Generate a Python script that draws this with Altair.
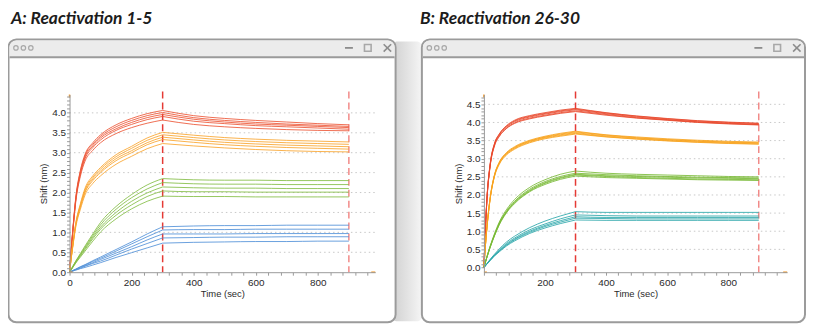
import altair as alt
import pandas as pd

# ---------------- data ----------------
T_ASSOC = [0, 5, 10, 20, 35, 50, 75, 100, 150, 200, 250, 300]
T_DISS = [300, 400, 500, 600, 700, 800, 900]

# Panel A : Reactivation 1-5
A_RED_ASSOC = [
    [0, 0.55, 1.02, 1.87, 2.56, 2.96, 3.25, 3.45, 3.70, 3.86, 3.98, 4.06],
    [0, 0.54, 1.00, 1.84, 2.53, 2.93, 3.21, 3.41, 3.65, 3.81, 3.93, 4.01],
    [0, 0.53, 0.99, 1.82, 2.49, 2.89, 3.17, 3.37, 3.60, 3.76, 3.88, 3.96],
    [0, 0.52, 0.98, 1.80, 2.46, 2.85, 3.13, 3.32, 3.56, 3.71, 3.83, 3.91],
    [0, 0.51, 0.95, 1.76, 2.41, 2.79, 3.06, 3.25, 3.48, 3.63, 3.74, 3.82],
]
A_RED_DISS = [
    [4.06, 3.93, 3.86, 3.81, 3.77, 3.73, 3.70],
    [4.01, 3.88, 3.81, 3.76, 3.72, 3.69, 3.66],
    [3.96, 3.84, 3.77, 3.72, 3.69, 3.66, 3.63],
    [3.91, 3.79, 3.73, 3.68, 3.65, 3.62, 3.59],
    [3.82, 3.71, 3.65, 3.61, 3.58, 3.56, 3.55],
]
A_ORANGE_ASSOC = [
    [0, 0.35, 0.67, 1.23, 1.72, 2.11, 2.42, 2.63, 2.95, 3.16, 3.37, 3.51],
    [0, 0.34, 0.66, 1.21, 1.69, 2.07, 2.38, 2.59, 2.90, 3.11, 3.31, 3.45],
    [0, 0.34, 0.64, 1.19, 1.66, 2.03, 2.34, 2.54, 2.85, 3.05, 3.25, 3.39],
    [0, 0.33, 0.63, 1.17, 1.63, 2.00, 2.30, 2.50, 2.80, 3.00, 3.20, 3.33],
    [0, 0.32, 0.61, 1.13, 1.58, 1.94, 2.23, 2.42, 2.71, 2.91, 3.10, 3.23],
]
A_ORANGE_DISS = [
    [3.51, 3.44, 3.38, 3.34, 3.31, 3.29, 3.27],
    [3.45, 3.38, 3.32, 3.28, 3.25, 3.23, 3.21],
    [3.39, 3.32, 3.26, 3.22, 3.19, 3.17, 3.15],
    [3.33, 3.26, 3.20, 3.16, 3.13, 3.11, 3.09],
    [3.23, 3.17, 3.12, 3.08, 3.05, 3.03, 3.02],
]
A_GREEN_ASSOC = [
    [0, 0.07, 0.14, 0.28, 0.47, 0.66, 0.96, 1.25, 1.65, 1.95, 2.19, 2.35],
    [0, 0.07, 0.14, 0.27, 0.45, 0.63, 0.92, 1.19, 1.58, 1.87, 2.09, 2.25],
    [0, 0.06, 0.13, 0.26, 0.43, 0.60, 0.88, 1.13, 1.50, 1.78, 1.99, 2.14],
    [0, 0.06, 0.12, 0.24, 0.41, 0.57, 0.84, 1.08, 1.43, 1.69, 1.90, 2.04],
    [0, 0.06, 0.11, 0.23, 0.38, 0.53, 0.78, 1.01, 1.34, 1.59, 1.78, 1.91],
]
A_GREEN_DISS = [
    [2.35, 2.32, 2.31, 2.31, 2.30, 2.30, 2.30],
    [2.25, 2.22, 2.21, 2.21, 2.20, 2.20, 2.20],
    [2.14, 2.12, 2.11, 2.11, 2.10, 2.10, 2.10],
    [2.04, 2.02, 2.02, 2.01, 2.01, 2.01, 2.01],
    [1.91, 1.90, 1.90, 1.89, 1.89, 1.89, 1.89],
]
A_BLUE_ASSOC = [
    [0, 0.02, 0.04, 0.08, 0.14, 0.19, 0.29, 0.38, 0.57, 0.76, 0.96, 1.14],
    [0, 0.02, 0.04, 0.07, 0.13, 0.18, 0.27, 0.35, 0.53, 0.71, 0.89, 1.06],
    [0, 0.02, 0.03, 0.07, 0.12, 0.16, 0.24, 0.32, 0.48, 0.64, 0.81, 0.96],
    [0, 0.01, 0.03, 0.06, 0.10, 0.15, 0.22, 0.28, 0.43, 0.58, 0.72, 0.86],
    [0, 0.01, 0.03, 0.05, 0.09, 0.12, 0.18, 0.24, 0.37, 0.49, 0.61, 0.73],
]
A_BLUE_DISS = [
    [1.14, 1.16, 1.17, 1.17, 1.18, 1.18, 1.18],
    [1.06, 1.07, 1.07, 1.08, 1.08, 1.08, 1.08],
    [0.96, 0.96, 0.96, 0.97, 0.97, 0.97, 0.97],
    [0.86, 0.87, 0.88, 0.88, 0.89, 0.89, 0.89],
    [0.73, 0.75, 0.76, 0.77, 0.77, 0.78, 0.78],
]

# Panel B : Reactivation 26-30
B_RED_ASSOC = [
    [0, 1.10, 1.92, 2.83, 3.43, 3.68, 3.92, 4.06, 4.19, 4.27, 4.34, 4.39],
    [0, 1.09, 1.91, 2.81, 3.42, 3.67, 3.90, 4.04, 4.17, 4.25, 4.32, 4.37],
    [0, 1.09, 1.90, 2.80, 3.40, 3.65, 3.88, 4.02, 4.15, 4.23, 4.30, 4.35],
    [0, 1.08, 1.89, 2.78, 3.38, 3.62, 3.85, 3.99, 4.12, 4.20, 4.27, 4.32],
    [0, 1.07, 1.88, 2.77, 3.36, 3.61, 3.84, 3.97, 4.10, 4.18, 4.25, 4.30],
]
B_RED_DISS = [
    [4.39, 4.27, 4.18, 4.11, 4.05, 4.01, 3.98],
    [4.37, 4.26, 4.17, 4.10, 4.04, 4.00, 3.97],
    [4.35, 4.24, 4.15, 4.08, 4.02, 3.98, 3.95],
    [4.32, 4.22, 4.13, 4.07, 4.01, 3.97, 3.94],
    [4.30, 4.20, 4.12, 4.06, 4.00, 3.96, 3.93],
]
B_ORANGE_ASSOC = [
    [0, 0.63, 1.13, 1.90, 2.57, 2.90, 3.18, 3.33, 3.51, 3.62, 3.70, 3.76],
    [0, 0.62, 1.12, 1.89, 2.56, 2.89, 3.16, 3.31, 3.49, 3.60, 3.68, 3.74],
    [0, 0.62, 1.12, 1.88, 2.55, 2.88, 3.15, 3.30, 3.48, 3.59, 3.66, 3.72],
    [0, 0.61, 1.11, 1.87, 2.53, 2.86, 3.13, 3.28, 3.46, 3.57, 3.64, 3.70],
    [0, 0.61, 1.10, 1.86, 2.52, 2.84, 3.11, 3.26, 3.44, 3.55, 3.62, 3.68],
]
B_ORANGE_DISS = [
    [3.76, 3.66, 3.60, 3.55, 3.51, 3.48, 3.46],
    [3.74, 3.65, 3.58, 3.53, 3.49, 3.46, 3.44],
    [3.72, 3.63, 3.57, 3.52, 3.48, 3.45, 3.43],
    [3.70, 3.61, 3.55, 3.50, 3.46, 3.43, 3.41],
    [3.68, 3.60, 3.54, 3.49, 3.45, 3.42, 3.40],
]
B_GREEN_ASSOC = [
    [0, 0.16, 0.30, 0.58, 0.94, 1.25, 1.61, 1.87, 2.21, 2.42, 2.57, 2.66],
    [0, 0.15, 0.30, 0.57, 0.92, 1.22, 1.57, 1.82, 2.16, 2.37, 2.51, 2.60],
    [0, 0.15, 0.29, 0.56, 0.90, 1.20, 1.55, 1.80, 2.13, 2.34, 2.48, 2.57],
    [0, 0.15, 0.29, 0.55, 0.89, 1.19, 1.54, 1.78, 2.11, 2.32, 2.46, 2.55],
    [0, 0.15, 0.28, 0.54, 0.88, 1.17, 1.52, 1.76, 2.09, 2.29, 2.43, 2.52],
]
B_GREEN_DISS = [
    [2.66, 2.60, 2.57, 2.55, 2.53, 2.51, 2.50],
    [2.60, 2.56, 2.53, 2.51, 2.49, 2.48, 2.47],
    [2.57, 2.53, 2.51, 2.49, 2.47, 2.46, 2.45],
    [2.55, 2.51, 2.48, 2.46, 2.44, 2.43, 2.42],
    [2.52, 2.48, 2.46, 2.44, 2.42, 2.41, 2.40],
]
B_TEAL_ASSOC = [
    [0, 0.05, 0.11, 0.22, 0.37, 0.51, 0.71, 0.86, 1.10, 1.28, 1.42, 1.54],
    [0, 0.05, 0.10, 0.21, 0.35, 0.48, 0.67, 0.81, 1.04, 1.20, 1.34, 1.45],
    [0, 0.05, 0.10, 0.20, 0.34, 0.46, 0.64, 0.78, 1.00, 1.16, 1.29, 1.40],
    [0, 0.05, 0.10, 0.19, 0.33, 0.45, 0.62, 0.76, 0.97, 1.13, 1.25, 1.36],
    [0, 0.05, 0.09, 0.19, 0.32, 0.43, 0.60, 0.73, 0.94, 1.09, 1.21, 1.31],
]
B_TEAL_DISS = [
    [1.54, 1.52, 1.52, 1.52, 1.52, 1.52, 1.52],
    [1.45, 1.43, 1.42, 1.42, 1.42, 1.42, 1.42],
    [1.40, 1.38, 1.38, 1.38, 1.38, 1.38, 1.38],
    [1.36, 1.35, 1.34, 1.34, 1.34, 1.34, 1.34],
    [1.31, 1.30, 1.30, 1.30, 1.30, 1.30, 1.30],
]

A_GROUPS = ["red", "orange", "green", "blue"]
A_COLORS = ["#ec5434", "#f9a42c", "#82bc44", "#4f8fd8"]
B_GROUPS = ["red", "orange", "green", "teal"]
B_COLORS = ["#e9482c", "#f8a31c", "#78b934", "#2ba6aa"]

PHASE_MARKERS = [300, 900]
X_TICKS = list(range(0, 961, 40))
A_Y_TICKS = [round(i * 0.1, 1) for i in range(0, 45)]
B_Y_TICKS = [round(i * 0.1, 1) for i in range(0, 48)]
A_GRID = [0.5, 1.0, 1.5, 2.0, 2.5, 3.0, 3.5, 4.0]
B_GRID = [0.5, 1.0, 1.5, 2.0, 2.5, 3.0, 3.5, 4.0, 4.5]

TITLE_A = "A: Reactivation 1-5"
TITLE_B = "B: Reactivation 26-30"


def build_df(groups, assoc_sets, diss_sets):
    rows = []
    for g, assoc, diss in zip(groups, assoc_sets, diss_sets):
        for i, (a, d) in enumerate(zip(assoc, diss)):
            for t, v in zip(T_ASSOC, a):
                rows.append({"t": t, "v": v, "grp": g, "key": f"{g}{i}a"})
            for t, v in zip(T_DISS, d):
                rows.append({"t": t, "v": v, "grp": g, "key": f"{g}{i}d"})
    return pd.DataFrame(rows)


dfA = build_df(A_GROUPS, [A_RED_ASSOC, A_ORANGE_ASSOC, A_GREEN_ASSOC, A_BLUE_ASSOC],
               [A_RED_DISS, A_ORANGE_DISS, A_GREEN_DISS, A_BLUE_DISS])
dfB = build_df(B_GROUPS, [B_RED_ASSOC, B_ORANGE_ASSOC, B_GREEN_ASSOC, B_TEAL_ASSOC],
               [B_RED_DISS, B_ORANGE_DISS, B_GREEN_DISS, B_TEAL_DISS])

ONE = pd.DataFrame({"o": [0]})
FRAME = "#9b9b9b"
ICON = "#8c8c8c"
AX = "#9a9a9a"
TXT = "#2a2a2a"


def deco_rule(x, x2, y, y2, color=ICON, width=1.5):
    return alt.Chart(ONE).mark_rule(color=color, strokeWidth=width).encode(
        x=alt.value(x), x2=alt.value(x2), y=alt.value(y), y2=alt.value(y2))


def axis(**kw):
    return alt.Axis(zindex=2, domainColor=AX, tickColor=AX, labelColor=TXT,
                    titleColor=TXT, labelFont="Liberation Sans",
                    titleFont="Liberation Sans", labelFontSize=10, titleFontSize=9.5,
                    titleFontWeight="normal", labelOverlap=False, labelFlush=False,
                    grid=False, tickSize=3, **kw)


def panel(df, title, W, H, xdom, ydom, yticks, grid, groups, colors,
          fx0, fx1, title_x, show_zero, shadow):
    xlab = ("datum.value % 200 === 0 ? format(datum.value, 'd') : ''" if show_zero else
            "datum.value % 200 === 0 && datum.value > 0 ? format(datum.value, 'd') : ''")
    xaxis = axis(values=X_TICKS, labelExpr=xlab, labelPadding=2, titlePadding=1,
                 title="Time (sec)")
    yaxis = axis(values=yticks, labelPadding=1, titlePadding=3, title="Shift (nm)",
                 labelExpr="round(datum.value * 10) % 5 === 0 ? format(datum.value, '.1f') : ''")
    xs = alt.Scale(domain=xdom, nice=False, zero=False)
    ys = alt.Scale(domain=ydom, nice=False, zero=False)
    ftop, fbot, bar = -55.5, 229.5, -37.5
    iy = -47
    layers = []
    if shadow:
        grad = alt.LinearGradient(
            gradient="linear",
            stops=[alt.GradientStop(color="#d0d0d0", offset=0),
                   alt.GradientStop(color="#e2e2e2", offset=0.5),
                   alt.GradientStop(color="#f6f6f6", offset=1)],
            x1=0, x2=1, y1=0, y2=0)
        layers.append(alt.Chart(ONE).mark_rect(fill=grad, cornerRadius=6).encode(
            x=alt.value(fx1 - 4), x2=alt.value(fx1 + 27),
            y=alt.value(ftop + 2), y2=alt.value(fbot - 1)))
    layers.append(alt.Chart(ONE).mark_rect(opacity=0).encode(
        x=alt.value(fx0), x2=alt.value(fx0 + 1), y=alt.value(-85), y2=alt.value(-84)))
    layers.append(alt.Chart(ONE).mark_rect(fill="white", stroke=FRAME, strokeWidth=2,
                                           cornerRadius=8).encode(
        x=alt.value(fx0), x2=alt.value(fx1), y=alt.value(ftop), y2=alt.value(fbot)))
    layers.append(alt.Chart(ONE).mark_rect(fill="#ececec", cornerRadiusTopLeft=7,
                                           cornerRadiusTopRight=7).encode(
        x=alt.value(fx0 + 1), x2=alt.value(fx1 - 1), y=alt.value(ftop + 1), y2=alt.value(bar)))
    layers.append(deco_rule(fx0 + 1, fx1 - 1, bar, bar, FRAME, 2))
    for cx in (fx0 + 7.5, fx0 + 15, fx0 + 22.5):
        layers.append(alt.Chart(ONE).mark_point(shape="circle", filled=False, size=20,
                                                color=ICON, strokeWidth=1.2).encode(
            x=alt.value(cx), y=alt.value(iy)))
    layers.append(deco_rule(fx1 - 51, fx1 - 43, iy, iy, ICON, 1.8))
    layers.append(alt.Chart(ONE).mark_point(shape="square", filled=False, size=45,
                                            color=ICON, strokeWidth=1.6).encode(
        x=alt.value(fx1 - 28), y=alt.value(iy)))
    layers.append(deco_rule(fx1 - 12, fx1 - 4.5, iy - 3.7, iy + 3.7, ICON, 1.6))
    layers.append(deco_rule(fx1 - 12, fx1 - 4.5, iy + 3.7, iy - 3.7, ICON, 1.6))
    layers.append(alt.Chart(ONE).mark_text(text=title, font="Lato", fontSize=17.5,
                                           fontWeight="bold", fontStyle="italic",
                                           align="left", baseline="alphabetic",
                                           color="#1c1c1c").encode(
        x=alt.value(title_x), y=alt.value(-71.5)))
    lines = alt.Chart(df).mark_line(strokeWidth=1, opacity=0.85,
                                    interpolate="monotone").encode(
        x=alt.X("t:Q", scale=xs, axis=xaxis),
        y=alt.Y("v:Q", scale=ys, axis=yaxis),
        color=alt.Color("grp:N", scale=alt.Scale(domain=groups, range=colors), legend=None),
        detail="key:N",
    )
    grid_layer = alt.Chart(pd.DataFrame({"g": grid})).mark_rule(
        color="#c8c8c8", strokeWidth=1, strokeDash=[1.5, 3]).encode(
        y=alt.Y("g:Q", scale=ys, axis=yaxis), x=alt.value(0), x2=alt.value(W))
    ph1 = alt.Chart(pd.DataFrame({"p": PHASE_MARKERS[:1]})).mark_rule(
        color="#e53a35", strokeWidth=1.5, strokeDash=[7, 4]).encode(
        x=alt.X("p:Q", scale=xs, axis=xaxis), y=alt.value(-3), y2=alt.value(H))
    ph2 = alt.Chart(pd.DataFrame({"p": PHASE_MARKERS[1:]})).mark_rule(
        color="#ee6d6a", strokeWidth=1.5, strokeDash=[7, 4], opacity=0.8).encode(
        x=alt.X("p:Q", scale=xs, axis=xaxis), y=alt.value(-3), y2=alt.value(H))
    layers += [grid_layer, ph1, ph2, lines]
    layers.append(deco_rule(0, 0, 0, 3, "#f39a2b", 1.5))
    layers.append(deco_rule(W - 4, W, H, H, "#f39a2b", 1.5))
    layers.append(deco_rule(0, 3, H, H, "#f39a2b", 1.5))
    return alt.layer(*layers).properties(width=W, height=H)


pA = panel(dfA, TITLE_A, 308, 179, [0, 985], [0, 4.46], A_Y_TICKS, A_GRID,
           A_GROUPS, A_COLORS, -61.5, 328.5, -59, True, True)
pB = panel(dfB, TITLE_B, 305.5, 179, [0, 993], [-0.13, 4.77], B_Y_TICKS, B_GRID,
           B_GROUPS, B_COLORS, -62.5, 323.5, -64.5, False, False)

chart = alt.hconcat(pA, pB, spacing=109.5, bounds="flush").resolve_scale(
    color="independent", x="independent", y="independent"
).properties(
    padding={"left": -1, "top": 0, "right": 0, "bottom": 0}
).configure_view(stroke=None)

chart.save("out.html", embed_options={"renderer": "svg", "actions": False})
